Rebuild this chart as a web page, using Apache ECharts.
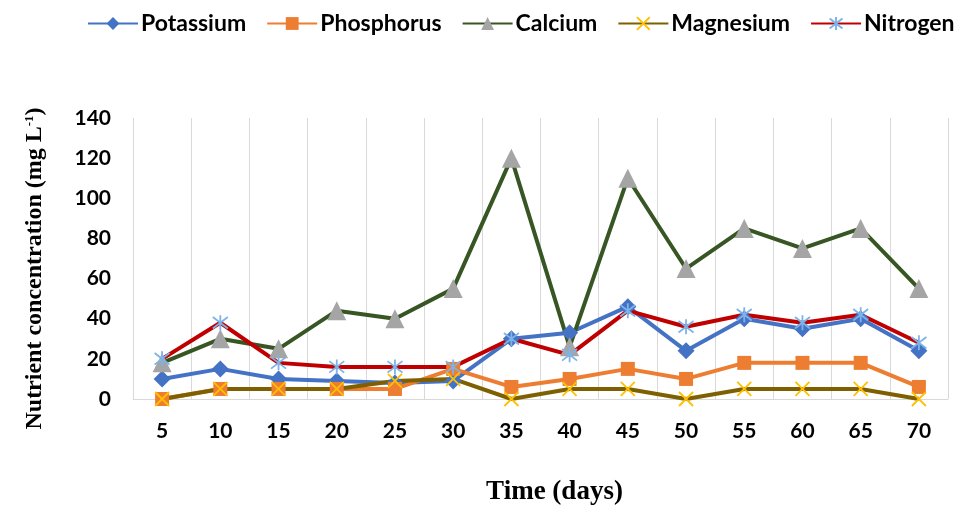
<!DOCTYPE html>
<html>
<head>
<meta charset="utf-8">
<script src="https://cdn.jsdelivr.net/npm/echarts@6/dist/echarts.min.js"></script>
<style>html,body{margin:0;padding:0;background:#fff;}#c{width:966px;height:511px;}</style>
</head>
<body>
<div id="c"></div>
<script>
const days = ['5','10','15','20','25','30','35','40','45','50','55','60','65','70'];
const potassium  = [10, 15, 10, 9, 8, 9, 30, 33, 46, 24, 40, 35, 40, 24];
const phosphorus = [0, 5, 5, 5, 5, 15, 6, 10, 15, 10, 18, 18, 18, 6];
const calcium    = [18, 30, 25, 44, 40, 55, 120, 26, 110, 65, 85, 75, 85, 55];
const magnesium  = [0, 5, 5, 5, 9, 10, 0, 5, 5, 0, 5, 5, 5, 0];
const nitrogen   = [20, 38, 18, 16, 16, 16, 30, 22, 44, 36, 42, 38, 42, 28];
const yTicks = { min: 0, max: 140, interval: 20 };

const sans = 'Lato';
const serif = 'Liberation Serif';
const X_PATH = 'path://M0,0L10,10M10,0L0,10';
const STAR_PATH = 'path://M0,0L10,10M10,0L0,10M5,-1.5L5,11.5';

function mk(name, data, lineColor, markColor, symbol, size, stroke) {
  return {
    name, type: 'line', data,
    symbol, symbolSize: size,
    lineStyle: { color: lineColor, width: 4 },
    itemStyle: stroke
      ? { color: 'none', borderColor: markColor, borderWidth: 1.8 }
      : { color: markColor, borderColor: markColor, borderWidth: 0 },
    emphasis: { disabled: true },
    animation: false
  };
}

const chart = echarts.init(document.getElementById('c'));
chart.setOption({
  backgroundColor: '#fff',
  animation: false,
  legend: {
    top: 7, left: 82,
    itemWidth: 50, itemHeight: 16, itemGap: 20,
    textStyle: { fontFamily: sans, fontWeight: 'bold', fontSize: 23, color: '#000', padding: [0,0,0,-2] },
    data: ['Potassium','Phosphorus','Calcium','Magnesium','Nitrogen']
  },
  grid: { left: 133, right: 18, top: 118, bottom: 109 },
  xAxis: {
    type: 'category', data: days, boundaryGap: true,
    name: 'Time (days)', nameLocation: 'middle', nameGap: 80,
    nameTextStyle: { fontFamily: serif, fontWeight: 'bold', fontSize: 27, color: '#000', padding: [0,0,0,28] },
    axisLine: { show: true, lineStyle: { color: '#d9d9d9', width: 1 } },
    axisTick: { show: false },
    axisLabel: { fontFamily: sans, fontWeight: 'bold', fontSize: 21, color: '#000', margin: 22 },
    splitLine: { show: true, lineStyle: { color: '#d9d9d9', width: 1 } }
  },
  yAxis: {
    type: 'value', min: yTicks.min, max: yTicks.max, interval: yTicks.interval,
    name: '{a|Nutrient concentration (mg L}{s|-1}{a|)}',
    nameLocation: 'middle', nameGap: 86, nameRotate: 90,
    nameTextStyle: {
      padding: [0,0,0,-20],
      rich: {
        a: { fontFamily: serif, fontWeight: 'bold', fontSize: 24, color: '#000' },
        s: { fontFamily: serif, fontWeight: 'bold', fontSize: 13, color: '#000', verticalAlign: 'top', padding: [0,0,10,0] }
      }
    },
    axisLine: { show: false }, axisTick: { show: false },
    axisLabel: { fontFamily: sans, fontWeight: 'bold', fontSize: 21, color: '#000', margin: 22 },
    splitLine: { show: false }
  },
  series: [
    mk('Potassium', potassium, '#4472C4', '#4472C4', 'diamond', 17, false),
    mk('Phosphorus', phosphorus, '#ED7D31', '#ED7D31', 'rect', 14, false),
    mk('Calcium', calcium, '#375623', '#A5A5A5', 'triangle', 19, false),
    mk('Magnesium', magnesium, '#7F6000', '#FFC000', X_PATH, 14, true),
    mk('Nitrogen', nitrogen, '#C00000', '#7DB3E8', STAR_PATH, 15, true)
  ]
});
</script>
</body>
</html>
